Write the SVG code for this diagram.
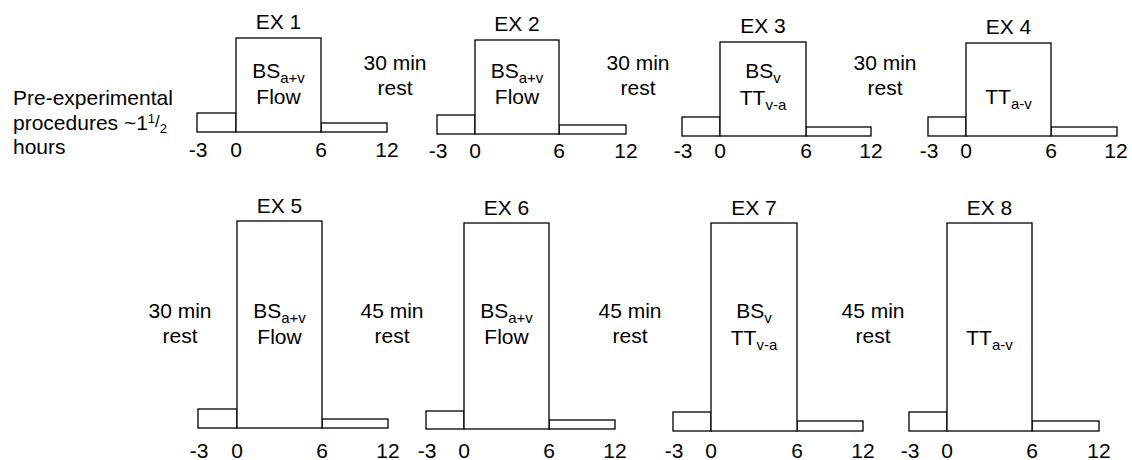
<svg xmlns="http://www.w3.org/2000/svg" width="1132" height="460" viewBox="0 0 1132 460">
<style>
.b{fill:#fff;stroke:#000;stroke-width:1.3}
.t{font-family:"Liberation Sans",Arial,Helvetica,sans-serif;font-size:21px;fill:#000}
.m{text-anchor:middle}
.s{font-size:15px}
</style>
<rect width="1132" height="460" fill="#fff"/>
<g id="connectors"/>
<g id="pre" class="t">
<text x="13" y="105">Pre-experimental</text>
<text x="13" y="130">procedures ~1<tspan font-size="13" dy="-7">1</tspan><tspan font-size="17" dy="4">/</tspan><tspan font-size="13" dy="6">2</tspan></text>
<text x="13" y="154">hours</text>
</g>
<g id="rests" class="t m">
<text x="395" y="70">30 min</text><text x="395" y="95">rest</text>
<text x="638" y="70">30 min</text><text x="638" y="95">rest</text>
<text x="885" y="70">30 min</text><text x="885" y="95">rest</text>
<text x="180" y="318">30 min</text><text x="180" y="343">rest</text>
<text x="392" y="318">45 min</text><text x="392" y="343">rest</text>
<text x="630" y="318">45 min</text><text x="630" y="343">rest</text>
<text x="873" y="318">45 min</text><text x="873" y="343">rest</text>
</g>
<g id="ex1">
<rect class="b" x="197" y="113" width="39" height="19"/>
<rect class="b" x="321" y="123" width="66" height="9"/>
<rect class="b" x="236" y="38" width="85" height="94"/>
<g class="t m">
<text x="278.5" y="29">EX 1</text>
<text x="278.5" y="78">BS<tspan class="s" dy="5">a+v</tspan></text>
<text x="278.5" y="104">Flow</text>
<text x="198" y="157">-3</text><text x="236" y="157">0</text><text x="321" y="157">6</text><text x="387" y="157">12</text>
</g>
</g>
<g id="ex2">
<rect class="b" x="437" y="115" width="38" height="19"/>
<rect class="b" x="559" y="125" width="67" height="9"/>
<rect class="b" x="475" y="40" width="84" height="94"/>
<g class="t m">
<text x="517" y="31">EX 2</text>
<text x="517" y="78">BS<tspan class="s" dy="5">a+v</tspan></text>
<text x="517" y="104">Flow</text>
<text x="438" y="158">-3</text><text x="475" y="158">0</text><text x="559" y="158">6</text><text x="626" y="158">12</text>
</g>
</g>
<g id="ex3">
<rect class="b" x="682" y="117" width="38" height="19"/>
<rect class="b" x="806" y="127" width="65" height="9"/>
<rect class="b" x="720" y="42" width="86" height="94"/>
<g class="t m">
<text x="763" y="33">EX 3</text>
<text x="763" y="78">BS<tspan class="s" dy="5">v</tspan></text>
<text x="763" y="105">TT<tspan class="s" dy="5">v-a</tspan></text>
<text x="683" y="158">-3</text><text x="720" y="158">0</text><text x="806" y="158">6</text><text x="871" y="158">12</text>
</g>
</g>
<g id="ex4">
<rect class="b" x="928" y="117" width="38" height="19"/>
<rect class="b" x="1051" y="127" width="66" height="9"/>
<rect class="b" x="966" y="43" width="85" height="93"/>
<g class="t m">
<text x="1008.5" y="34">EX 4</text>
<text x="1008.5" y="104">TT<tspan class="s" dy="5">a-v</tspan></text>
<text x="929" y="158">-3</text><text x="966" y="158">0</text><text x="1051" y="158">6</text><text x="1116" y="158">12</text>
</g>
</g>
<g id="ex5">
<rect class="b" x="198" y="409" width="39" height="19"/>
<rect class="b" x="322" y="419" width="66" height="9"/>
<rect class="b" x="237" y="221" width="85" height="207"/>
<g class="t m">
<text x="279.5" y="213">EX 5</text>
<text x="279.5" y="318">BS<tspan class="s" dy="5">a+v</tspan></text>
<text x="279.5" y="344">Flow</text>
<text x="199" y="458">-3</text><text x="237" y="458">0</text><text x="322" y="458">6</text><text x="388" y="458">12</text>
</g>
</g>
<g id="ex6">
<rect class="b" x="426" y="411" width="38" height="18"/>
<rect class="b" x="549" y="420" width="66" height="9"/>
<rect class="b" x="464" y="223" width="85" height="206"/>
<g class="t m">
<text x="506.5" y="215">EX 6</text>
<text x="506.5" y="318">BS<tspan class="s" dy="5">a+v</tspan></text>
<text x="506.5" y="344">Flow</text>
<text x="427" y="458">-3</text><text x="464" y="458">0</text><text x="549" y="458">6</text><text x="615" y="458">12</text>
</g>
</g>
<g id="ex7">
<rect class="b" x="673" y="412" width="38" height="19"/>
<rect class="b" x="797" y="421" width="66" height="10"/>
<rect class="b" x="711" y="223" width="86" height="208"/>
<g class="t m">
<text x="754" y="215">EX 7</text>
<text x="754" y="318">BS<tspan class="s" dy="5">v</tspan></text>
<text x="754" y="345">TT<tspan class="s" dy="5">v-a</tspan></text>
<text x="674" y="458">-3</text><text x="711" y="458">0</text><text x="797" y="458">6</text><text x="863" y="458">12</text>
</g>
</g>
<g id="ex8">
<rect class="b" x="909" y="412" width="38" height="19"/>
<rect class="b" x="1032" y="421" width="67" height="10"/>
<rect class="b" x="947" y="223" width="85" height="208"/>
<g class="t m">
<text x="989.5" y="215">EX 8</text>
<text x="989.5" y="345">TT<tspan class="s" dy="5">a-v</tspan></text>
<text x="910" y="458">-3</text><text x="947" y="458">0</text><text x="1032" y="458">6</text><text x="1099" y="458">12</text>
</g>
</g>
</svg>
